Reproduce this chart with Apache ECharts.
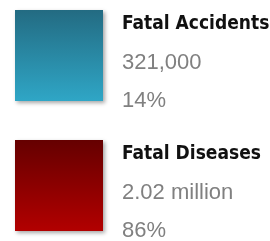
<!DOCTYPE html>
<html>
<head>
<meta charset="utf-8">
<script src="https://cdn.jsdelivr.net/npm/echarts@6/dist/echarts.min.js"></script>
<style>
  html, body { margin: 0; padding: 0; background: #fff; }
  #chart { width: 270px; height: 241px; }
</style>
</head>
<body>
<div id="chart"></div>
<script>
// categories and their numbers
var categories = ['Fatal Accidents', 'Fatal Diseases'];
var amounts = ['321,000', '2.02 million'];
var shares = [14, 86];

// gradient top / bottom per category
var topColors = ['#236b82', '#650000'];
var bottomColors = ['#2fa6c6', '#b20000'];

var myChart = echarts.init(document.getElementById('chart'));

var seriesData = categories.map(function (name, i) {
  return {
    name: name,
    value: [0, name],
    amount: amounts[i],
    share: shares[i],
    itemStyle: {
      color: new echarts.graphic.LinearGradient(0, 0, 0, 1, [
        { offset: 0, color: topColors[i] },
        { offset: 1, color: bottomColors[i] }
      ])
    }
  };
});

var option = {
  backgroundColor: '#fff',
  animation: false,
  grid: { left: 59, right: 10, top: 55.5, bottom: 55.5 },
  xAxis: { type: 'value', min: 0, max: 1, show: false },
  yAxis: {
    type: 'category',
    data: categories,
    inverse: true,
    boundaryGap: false,
    show: false
  },
  series: [{
    type: 'scatter',
    symbol: 'rect',
    symbolSize: [88, 91],
    itemStyle: {
      opacity: 1,
      shadowColor: 'rgba(0,0,0,0.35)',
      shadowBlur: 4,
      shadowOffsetX: 2,
      shadowOffsetY: 2
    },
    label: {
      show: true,
      position: 'right',
      distance: 19,
      offset: [0, 7],
      align: 'left',
      formatter: function (p) {
        return '{n|' + p.data.name + '}\n{v|' + p.data.amount + '}\n{v|' + p.data.share + '%}';
      },
      rich: {
        n: {
          fontFamily: '"DejaVu Sans Condensed", "DejaVu Sans", sans-serif',
          fontWeight: 'bold',
          fontSize: 19,
          color: '#111',
          lineHeight: 38
        },
        v: {
          fontFamily: 'Liberation Sans',
          fontSize: 22,
          color: '#808080',
          lineHeight: 38
        }
      }
    },
    data: seriesData
  }]
};

myChart.setOption(option);
</script>
</body>
</html>
